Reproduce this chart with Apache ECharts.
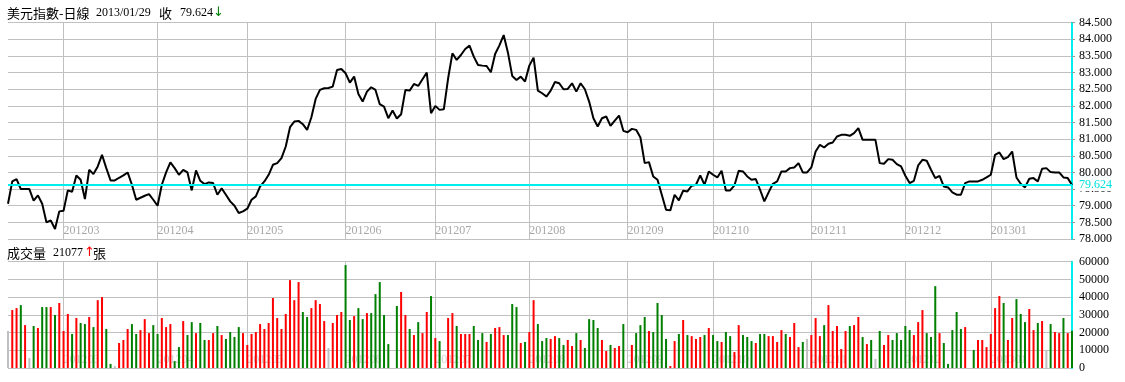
<!DOCTYPE html>
<html><head><meta charset="utf-8">
<script src="https://cdn.jsdelivr.net/npm/echarts@6/dist/echarts.min.js"></script>
<style>html,body{margin:0;padding:0;background:#fff}#c{width:1125px;height:382px}</style>
</head><body><div id="c"></div>
<script>
// ---- data ----
const monthLabels = ['201202','201203','201204','201205','201206','201207','201208','201209','201210','201211','201212','201301'];
const monthDays = [13,22,21,23,21,22,23,20,23,22,20,20];

const closePrices = [
79.06,79.73,79.80,79.50,79.50,79.50,79.15,79.31,79.06,78.50,
78.56,78.30,78.83,78.85,79.46,79.42,79.91,79.78,79.20,80.08,
79.95,80.18,80.53,80.13,79.76,79.76,79.84,79.91,80.00,79.63,
79.18,79.24,79.30,79.35,79.18,79.00,79.63,80.00,80.30,80.13,
79.93,80.08,80.00,79.46,80.06,79.75,79.65,79.70,79.68,79.33,
79.52,79.33,79.13,79.00,78.78,78.83,78.91,79.18,79.28,79.58,
79.73,79.93,80.23,80.28,80.43,80.78,81.36,81.53,81.55,81.45,
81.28,81.66,82.21,82.48,82.53,82.54,82.58,83.08,83.11,82.98,
82.70,82.88,82.36,82.13,82.43,82.56,82.48,82.05,81.98,81.63,
81.86,81.62,81.75,82.48,82.46,82.66,82.60,82.80,83.00,81.78,
82.00,81.88,81.90,82.83,83.58,83.38,83.53,83.71,83.81,83.48,
83.23,83.21,83.20,83.01,83.56,83.82,84.13,83.60,82.90,82.78,
82.88,82.73,83.21,83.45,82.46,82.38,82.28,82.46,82.72,82.68,
82.50,82.51,82.68,82.43,82.68,82.50,82.13,81.63,81.38,81.63,
81.68,81.40,81.56,81.71,81.25,81.21,81.31,81.28,81.05,80.28,
80.31,79.88,79.78,79.33,78.88,78.86,79.33,79.16,79.45,79.43,
79.60,79.63,79.91,79.63,80.03,79.93,79.85,80.05,79.46,79.46,
79.61,80.05,80.03,79.88,79.78,79.80,79.48,79.13,79.40,79.66,
79.73,80.03,80.03,80.13,80.15,80.28,80.00,80.00,80.15,80.63,
80.83,80.75,80.86,80.90,81.08,81.13,81.13,81.10,81.18,81.33,
80.98,80.98,80.98,80.98,80.28,80.26,80.40,80.38,80.25,80.18,
79.90,79.68,79.75,80.21,80.38,80.35,80.08,79.83,79.90,79.58,
79.55,79.40,79.33,79.33,79.68,79.73,79.73,79.73,79.78,79.85,
79.93,80.53,80.60,80.40,80.46,80.63,79.85,79.66,79.55,79.81,
79.83,79.73,80.11,80.13,80.01,80.00,80.00,79.85,79.83,79.624
];

const volumes = [
20900,32700,33800,35500,24200,5600,23700,22600,34400,34400,
34400,29900,36700,20900,30500,19200,28200,25400,24800,28800,
23100,38300,40000,22000,2300,1100,14100,15800,22000,24800,
19200,21400,27600,19700,24200,19200,28200,23100,24800,3900,
11800,26500,18600,25900,19700,25400,15800,15800,19700,23700,
18600,16400,20300,17500,23100,19700,13000,19200,20300,24800,
22000,25400,39500,28200,22000,30500,49600,38300,48500,31600,
28800,33800,38300,36100,26500,11300,25400,29900,31600,58100,
27100,29300,33800,27600,31000,31000,41700,48500,29900,13500,
null,35000,42900,29900,22000,18600,25900,19700,31600,40600,
16900,15200,null,28200,31000,23700,19200,19200,19200,23700,
15800,19700,14700,19200,22600,23100,18600,18600,36100,34400,
14100,14700,20300,38300,24800,15200,16900,16400,18000,16900,
13000,15800,12400,19700,15800,11300,27600,27100,22600,15800,
9600,13000,11300,12400,24800,null,13000,19700,24200,28800,
20900,20300,36700,29900,16400,1100,15200,19200,27100,18600,
18000,16400,17500,18600,22600,18600,15200,14700,20300,18000,
9000,24200,18600,17500,15200,14100,19200,19200,18000,18000,
14700,21400,19200,17500,25400,11800,14700,16400,18600,28200,
18000,24200,35500,20900,23700,10700,20900,23700,24200,28800,
17500,13500,15800,5100,20900,13000,18600,15800,19700,15800,
23700,21400,18600,25900,32700,19700,17500,46200,19700,14100,
2300,21400,31600,22000,23100,null,10200,15800,15800,11800,
19200,33800,40600,36700,15800,28200,38900,30500,25900,33300,
21400,25400,26500,10200,24800,20300,19700,28200,19700,21077
];

// daily direction per month: u = up (red), d = down (green), n = unchanged (gray), x = no trade
const directionsByMonth = [
  'nuudunduddudu',
  'uududduduuddnuuudduuud',
  'duuudduddudduududdddu',
  'uuuuuuuuuuuuudduuuunuuu',
  'dduddudddddxduududuud',
  'udxuuduuuddduduuudddud',
  'uuddduudduududddduuduud',
  'xudddudddduududuuudu',
  'ddudduudddudduuuuduuudn',
  'uuuduuuuuduududnduuddd',
  'dduuudddudddddu' + 'xduuu',
  'uuud' + 'uu' + 'ddd' + 'uu' + 'd' + 'u' + 'n' + 'd' + 'uu' + 'd' + 'u' + 'd'
];

const lastClose = 79.624;
const lastVolume = 21077;
const quoteDate = '2013/01/29';

// ---- build ----
const categories = [];
monthLabels.forEach((m, k) => { for (let d = 1; d <= monthDays[k]; d++) categories.push(m + '-' + d); });
const directions = directionsByMonth.join('').split('');
const isMonthStart = (idx, val) => idx > 0 && String(val).split('-')[1] === '1';
const dirColor = { u: '#ff0000', d: '#008000', n: '#c0c0c0', x: '#c0c0c0' };

const numFont = 'Liberation Serif';
const cjkFont = 'Noto Sans CJK TC';
const gridColor = '#c0c0c0';
const cyan = '#00eeee';

const chart = echarts.init(document.getElementById('c'), null, { renderer: 'canvas' });
chart.setOption({
  animation: false,
  backgroundColor: '#fff',
  grid: [
    { left: 8, right: 53, top: 22.7, height: 216.3 },
    { left: 8, right: 53, top: 261.7, height: 106.3 }
  ],
  xAxis: [0, 1].map(g => ({
    gridIndex: g, type: 'category', data: categories, boundaryGap: false,
    axisLine: { show: false }, axisTick: { show: false },
    axisLabel: {
      inside: true, interval: isMonthStart, align: 'left', margin: 2,
      formatter: v => v.split('-')[0],
      color: g === 0 ? '#a8a8a8' : '#d0d0d0', fontSize: 12, fontFamily: numFont
    },
    splitLine: { show: true, interval: isMonthStart, lineStyle: { color: gridColor, width: 1 } }
  })),
  yAxis: [
    {
      gridIndex: 0, type: 'value', position: 'right', min: 78, max: 84.5, interval: 0.5,
      axisLine: { show: true, lineStyle: { color: cyan, width: 2 } },
      axisTick: { show: true, length: 3, lineStyle: { color: '#999' } },
      axisLabel: { formatter: v => v.toFixed(3), color: '#000', fontSize: 12, fontFamily: numFont, margin: 7 },
      splitLine: { show: true, lineStyle: { color: gridColor, width: 1 } }
    },
    {
      gridIndex: 1, type: 'value', position: 'right', min: 0, max: 60000, interval: 10000,
      axisLine: { show: true, lineStyle: { color: cyan, width: 2 } },
      axisTick: { show: false },
      axisLabel: { formatter: v => String(v), color: '#000', fontSize: 12, fontFamily: numFont, margin: 7 },
      splitLine: { show: true, lineStyle: { color: gridColor, width: 1 } }
    }
  ],
  series: [
    {
      type: 'line', xAxisIndex: 0, yAxisIndex: 0, data: closePrices,
      symbol: 'none', lineStyle: { color: '#000', width: 2 }, itemStyle: { color: '#000' }, z: 3,
      markLine: {
        silent: true, symbol: 'none', animation: false,
        data: [{ yAxis: lastClose }],
        lineStyle: { color: cyan, width: 2, type: 'solid' },
        label: { position: 'end', distance: 7, formatter: lastClose.toFixed(3), color: '#00e0e0',
                 fontSize: 12, fontFamily: numFont, backgroundColor: '#fff', padding: [0, 2, 0, 0] }
      }
    },
    {
      type: 'bar', xAxisIndex: 1, yAxisIndex: 1, barWidth: 2,
      data: volumes.map((v, i) => v == null ? null : { value: v, itemStyle: { color: dirColor[directions[i]] || '#c0c0c0' } })
    }
  ],
  graphic: [
    { type: 'text', x: 7, y: 13, style: { text: '美元指數-日線', font: '13px "' + cjkFont + '"', fill: '#000', verticalAlign: 'middle' } },
    { type: 'text', x: 96, y: 13, style: { text: quoteDate, font: '12px "' + numFont + '"', fill: '#000', verticalAlign: 'middle' } },
    { type: 'text', x: 159, y: 13, style: { text: '收', font: '13px "' + cjkFont + '"', fill: '#000', verticalAlign: 'middle' } },
    { type: 'text', x: 180, y: 13, style: { text: lastClose.toFixed(3), font: '12px "' + numFont + '"', fill: '#000', verticalAlign: 'middle' } },
    { type: 'text', x: 213, y: 13, style: { text: '↓', font: '13px "DejaVu Sans"', fill: '#008000', verticalAlign: 'middle' } },
    { type: 'text', x: 7, y: 253, style: { text: '成交量', font: '13px "' + cjkFont + '"', fill: '#000', verticalAlign: 'middle' } },
    { type: 'text', x: 53, y: 253, style: { text: String(lastVolume), font: '12px "' + numFont + '"', fill: '#000', verticalAlign: 'middle' } },
    { type: 'text', x: 84, y: 253, style: { text: '↑', font: '13px "DejaVu Sans"', fill: '#ff0000', verticalAlign: 'middle' } },
    { type: 'text', x: 93, y: 253, style: { text: '張', font: '13px "' + cjkFont + '"', fill: '#000', verticalAlign: 'middle' } }
  ]
});
</script></body></html>
